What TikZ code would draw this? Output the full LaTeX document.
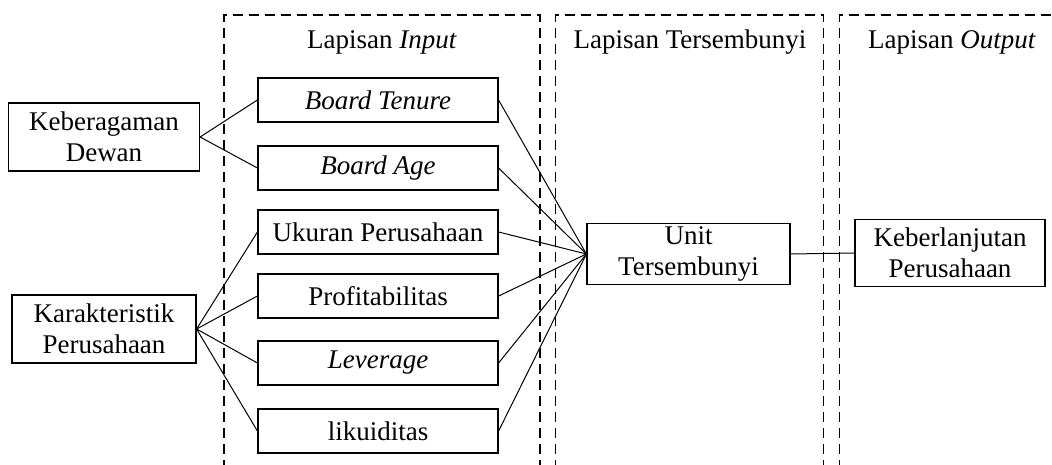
\documentclass[tikz,border=0pt]{standalone}
\usepackage{fontspec}
\setmainfont{Liberation Serif}
\begin{document}
\begin{tikzpicture}[x=1pt,y=-1pt,
  box/.style={draw,line width=1.2pt,rectangle,inner sep=0pt,align=center,font=\fontsize{27}{31}\selectfont},
  inbox/.style={box,minimum width=240pt,minimum height=44pt},
  layer/.style={line width=1.6pt,dash pattern=on 10pt off 6pt},
  title/.style={font=\fontsize{27}{31}\selectfont,inner sep=0pt},
  conn/.style={line width=1pt}]
\useasboundingbox (0,0) rectangle (1052,464);
% layers
\draw[layer] (224,470) -- (224,15) -- (540,15) -- (540,470);
\draw[layer] (555.5,470) -- (555.5,15) -- (823.5,15) -- (823.5,470);
\draw[layer] (839.5,470) -- (839.5,15) -- (1060,15);
\node[title] (tin) at (382,42) {Lapisan \textit{Input}};
\node[title] (thid) at (690,42) {Lapisan Tersembunyi};
\node[title] (tout) at (952,42) {Lapisan \textit{Output}};
% nodes
\node[box,minimum width=191pt,minimum height=68pt] (kd) at (104,137) {Keberagaman\\Dewan};
\node[box,minimum width=184pt,minimum height=68pt] (kp) at (104,329) {Karakteristik\\Perusahaan};
\node[inbox] (bt) at (378,100) {\textit{Board Tenure}};
\node[inbox] (ba) at (378,168) {\textit{Board Age}};
\node[inbox] (up) at (378,232) {Ukuran Perusahaan};
\node[inbox] (pr) at (378,296) {Profitabilitas};
\node[inbox] (lv) at (378,363) {\textit{Leverage}};
\node[inbox] (lk) at (378,431) {likuiditas};
\node[box,minimum width=203pt,minimum height=61pt] (unit) at (688.5,254) {Unit\\Tersembunyi};
\node[box,minimum width=190pt,minimum height=67pt] (kb) at (950,253) {Keberlanjutan\\Perusahaan};
% connectors
\foreach \n in {bt,ba} \draw[conn] (kd.east) -- (\n.west);
\foreach \n in {up,pr,lv,lk} \draw[conn] (kp.east) -- (\n.west);
\foreach \n in {bt,ba,up,pr,lv,lk} \draw[conn] (\n.east) -- (unit.west);
\draw[conn] (unit.east) -- (kb.west);
\end{tikzpicture}
\end{document}
